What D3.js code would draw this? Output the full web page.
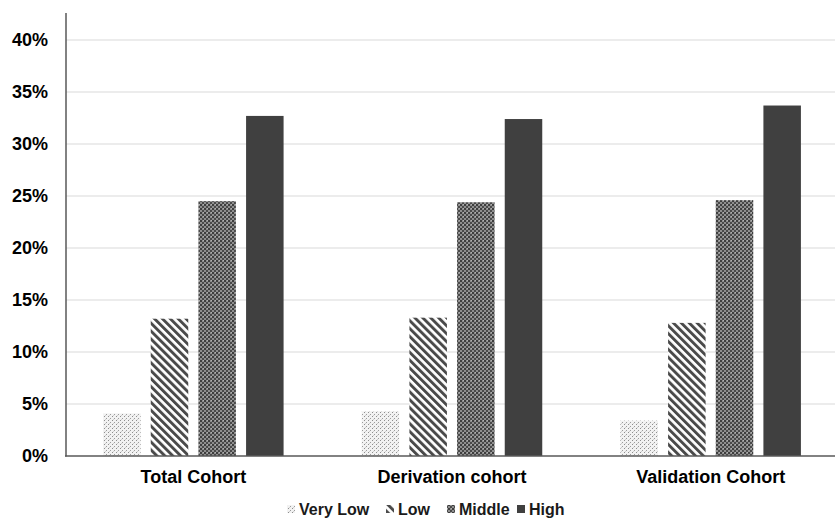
<!DOCTYPE html>
<html><head><meta charset="utf-8">
<script src="https://cdn.jsdelivr.net/npm/d3@7"></script>
<style>body{margin:0;background:#fff}svg{display:block}</style>
</head><body>
<svg id="c" width="835" height="518"></svg>
<script>
const categories = ["Total Cohort", "Derivation cohort", "Validation Cohort"];
const series = ["Very Low", "Low", "Middle", "High"];
const veryLow = [0.041, 0.043, 0.034];
const low = [0.132, 0.133, 0.128];
const middle = [0.245, 0.244, 0.246];
const high = [0.327, 0.324, 0.337];
const yTicks = [0, 0.05, 0.10, 0.15, 0.20, 0.25, 0.30, 0.35, 0.40];

const values = [veryLow, low, middle, high];
const svg = d3.select("#c");
const defs = svg.append("defs");

// patterns
const p1 = defs.append("pattern").attr("id","pVL").attr("patternUnits","userSpaceOnUse").attr("width",4).attr("height",4);
p1.append("rect").attr("width",4).attr("height",4).attr("fill","#f2f2f2");
p1.append("rect").attr("x",0).attr("y",0).attr("width",1).attr("height",1).attr("fill","#8e8e8e");
p1.append("rect").attr("x",2).attr("y",2).attr("width",1).attr("height",1).attr("fill","#9c9c9c");
p1.append("rect").attr("x",1).attr("y",3).attr("width",1).attr("height",1).attr("fill","#cfcfcf");

const p2 = defs.append("pattern").attr("id","pL").attr("patternUnits","userSpaceOnUse").attr("width",5.6).attr("height",5.6).attr("patternTransform","rotate(-45)");
p2.append("rect").attr("width",5.6).attr("height",5.6).attr("fill","#ffffff");
p2.append("rect").attr("x",0).attr("y",0).attr("width",2.9).attr("height",5.6).attr("fill","#4a4a4a");

const p3 = defs.append("pattern").attr("id","pM").attr("patternUnits","userSpaceOnUse").attr("width",4).attr("height",4);
p3.append("rect").attr("width",4).attr("height",4).attr("fill","#8e8e8e");
p3.append("rect").attr("x",0).attr("y",0).attr("width",2).attr("height",2).attr("fill","#3e3e3e");
p3.append("rect").attr("x",2).attr("y",2).attr("width",2).attr("height",2).attr("fill","#4a4a4a");
p3.append("rect").attr("x",3).attr("y",0).attr("width",1).attr("height",1).attr("fill","#b0b0b0");

const fills = ["url(#pVL)","url(#pL)","url(#pM)","#404040"];

const y = d3.scaleLinear().domain([0, 0.40]).range([456, 40]);
const x0 = d3.scaleBand().domain(categories).range([64, 840]).paddingInner(0).paddingOuter(0);
const x1 = d3.scaleBand().domain(series).range([0, x0.bandwidth()]).paddingInner(0.213).paddingOuter(0.82);

// gridlines
svg.append("g").selectAll("line").data(yTicks.filter(d=>d>0)).join("line")
  .attr("x1",66).attr("x2",835).attr("y1",d=>y(d)).attr("y2",d=>y(d))
  .attr("stroke","#d9d9d9").attr("stroke-width",1);

// y tick labels
const yAxis = d3.axisLeft(y).tickValues(yTicks).tickFormat(d3.format(".0%")).tickSize(0).tickPadding(18);
const ga = svg.append("g").attr("transform","translate(66,0)").call(yAxis);
ga.select(".domain").remove();
ga.selectAll("text").attr("font-family","Liberation Sans, Arial, sans-serif").attr("font-weight","bold").attr("font-size",18).attr("fill","#000");

// bars
const g = svg.append("g");
categories.forEach((c, ci) => {
  series.forEach((s, si) => {
    g.append("rect")
      .attr("x", x0(c) + x1(s))
      .attr("width", x1.bandwidth())
      .attr("y", y(values[si][ci]))
      .attr("height", y(0) - y(values[si][ci]))
      .attr("fill", fills[si]);
  });
});

// axis lines
svg.append("line").attr("x1",66).attr("x2",66).attr("y1",13).attr("y2",456.5).attr("stroke","#595959").attr("stroke-width",1.5);
svg.append("line").attr("x1",65).attr("x2",835).attr("y1",456).attr("y2",456).attr("stroke","#595959").attr("stroke-width",1.5);

// category labels
const xAxis = d3.axisBottom(x0).tickSize(0).tickPadding(14);
const gx = svg.append("g").attr("transform","translate(0,456)").call(xAxis);
gx.select(".domain").remove();
gx.selectAll("text").attr("font-family","Liberation Sans, Arial, sans-serif").attr("font-weight","bold").attr("font-size",18).attr("fill","#000");

// legend
const legStarts = [287, 386, 447, 517];
const lg = svg.append("g");
series.forEach((s, i) => {
  const sx = legStarts[i];
  lg.append("rect").attr("x", sx).attr("y", 505).attr("width", 8).attr("height", 8).attr("fill", fills[i]);
  lg.append("text").attr("x", sx + 12).attr("y", 515).text(s)
    .attr("font-family","Liberation Sans, Arial, sans-serif").attr("font-weight","bold").attr("font-size",16).attr("fill","#1a1a1a");
});
</script>
</body></html>
